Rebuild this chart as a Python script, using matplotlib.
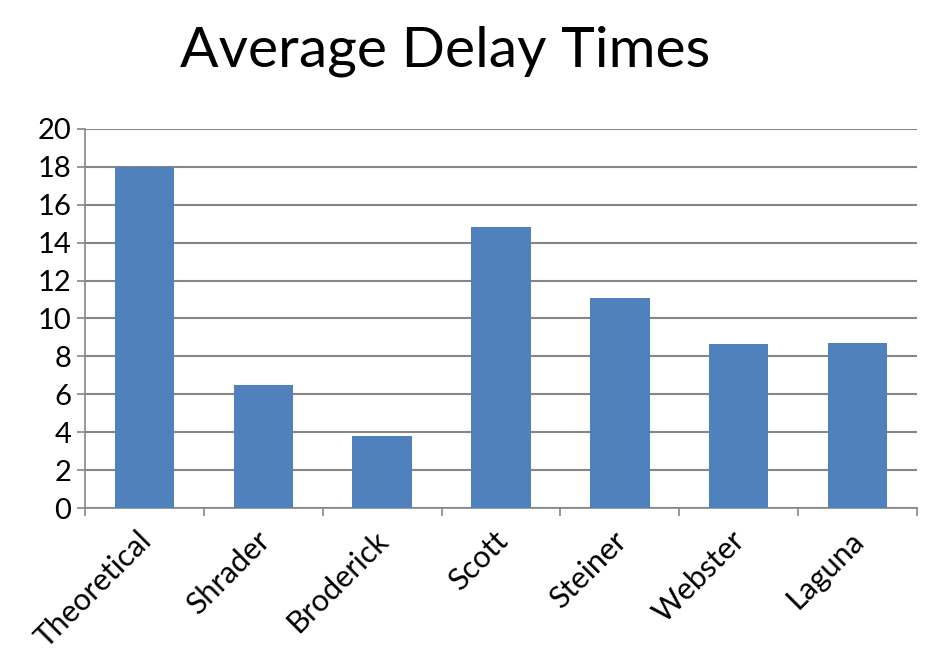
import matplotlib
matplotlib.use("Agg")
import matplotlib.pyplot as plt
import matplotlib.transforms as mtransforms
import numpy as np

plt.rcParams['font.family'] = ['Lato', 'DejaVu Sans']

names = ["Theoretical", "Shrader", "Broderick", "Scott", "Steiner", "Webster", "Laguna"]
delays = [18.0, 6.5, 3.8, 14.85, 11.1, 8.65, 8.7]
yticks = [0, 2, 4, 6, 8, 10, 12, 14, 16, 18, 20]

fig = plt.figure(figsize=(9.29, 6.56), dpi=100)
ax = fig.add_axes([0.0915, 0.2256, 0.8955, 0.5778])

x = np.arange(len(names))
ax.bar(x, delays, width=0.5, color="#4F81BD", zorder=3)

ax.set_xlim(-0.5, len(names) - 0.5)
ax.set_ylim(0, 20)
ax.set_yticks(yticks)
ax.set_yticklabels([str(v) for v in yticks], fontsize=21)
ax.yaxis.grid(True, color="#868686", linewidth=1.5, zorder=0)

ax.set_xticks(x)
ax.set_xticklabels(names, rotation=45, ha="right", va="top", fontsize=22,
                   rotation_mode="anchor")
ax.tick_params(axis="x", which="major", length=0, pad=13)
# nudge the slanted labels a bit to the left
shift = mtransforms.ScaledTranslation(-8 / 100, 0, fig.dpi_scale_trans)
for lbl in ax.get_xticklabels():
    lbl.set_transform(lbl.get_transform() + shift)
ax.set_xticks(np.arange(-0.5, len(names)), minor=True)
ax.tick_params(axis="x", which="minor", length=6, color="#868686", width=1.2)
ax.tick_params(axis="y", length=6, color="#868686", width=1.2, pad=4)

for s in ["top", "right"]:
    ax.spines[s].set_visible(False)
for s in ["left", "bottom"]:
    ax.spines[s].set_color("#868686")
    ax.spines[s].set_linewidth(1.2)

fig.text(0.479, 0.899, "Average Delay Times", ha="center", va="baseline", fontsize=41)

fig.savefig("out.png", dpi=100)
